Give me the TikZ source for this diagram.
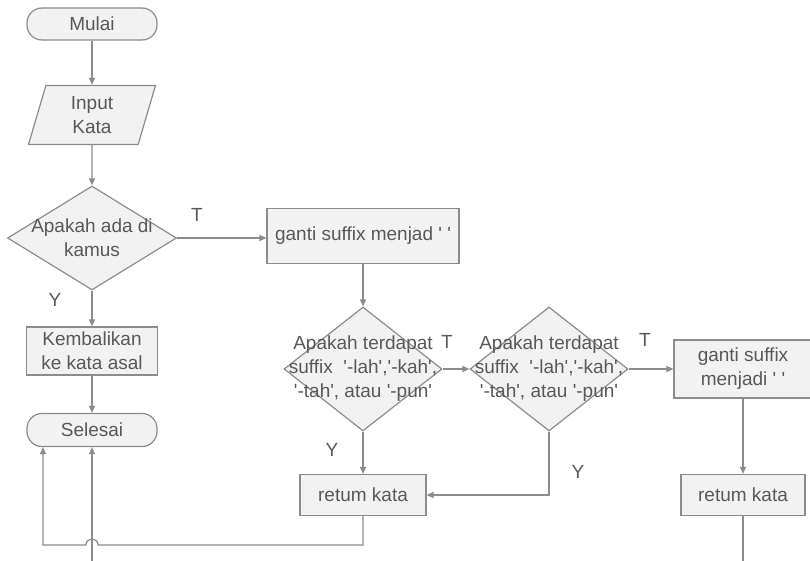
\documentclass[tikz,border=0pt]{standalone}
\usepackage{fontspec}
\usetikzlibrary{arrows.meta,positioning,calc,shapes.geometric}
\newfontfamily\lsans{Liberation Sans}
\definecolor{edge}{HTML}{8C8C8C}
\definecolor{boxfill}{HTML}{F2F2F2}
\definecolor{ink}{HTML}{585858}

\begin{document}
\begin{tikzpicture}[x=1pt,y=-1pt,
  every node/.style={font=\lsans\fontsize{19}{24}\selectfont,text=ink,align=center},
  term/.style={draw=edge,fill=boxfill,line width=1.2pt,rounded corners=15pt,minimum width=130pt,minimum height=32pt},
  io/.style={trapezium,trapezium left angle=65,trapezium right angle=115,trapezium stretches body,draw=edge,fill=boxfill,line width=1.2pt,minimum width=127pt,minimum height=59pt,inner sep=0pt},
  dec/.style={diamond,draw=edge,fill=boxfill,line width=1.2pt,inner sep=0pt},
  proc/.style={rectangle,draw=edge,fill=boxfill,line width=1.2pt,inner sep=0pt},
  flow/.style={draw=edge,line width=1.2pt,-{Triangle[length=7pt,width=6pt]}},
  plain/.style={draw=edge,line width=1.2pt}]
\useasboundingbox (0,0) rectangle (810,561);
% left column
\node[term] (mulai) at (92,24) {Mulai};
\node[io] (input) at (92,115) {Input\\Kata};
\node[dec,minimum width=169pt,minimum height=104pt,label={[align=center]center:{Apakah ada di\\kamus}}] (kamus) at (92,238) {};
\node[proc,minimum width=131pt,minimum height=48pt] (kembali) at (92,351) {Kembalikan\\ke kata asal};
\node[term,minimum height=33pt] (selesai) at (92,430) {Selesai};
% middle and right
\node[proc,minimum width=192pt,minimum height=55pt] (ganti1) at (363,236) {ganti suffix menjad ' '};
\node[dec,minimum width=158pt,minimum height=124pt,label={[align=center]center:{Apakah terdapat\\suffix~~'-lah','-kah',\\'-tah', atau '-pun'}}] (cek1) at (363,369) {};
\node[dec,minimum width=158pt,minimum height=124pt,label={[align=center]center:{Apakah terdapat\\suffix~~'-lah','-kah',\\'-tah', atau '-pun'}}] (cek2) at (549,369) {};
\node[proc,minimum width=138pt,minimum height=58pt] (ganti2) at (743,369) {ganti suffix\\menjadi ' '};
\node[proc,minimum width=126pt,minimum height=41pt] (ret1) at (363,495) {retum kata};
\node[proc,minimum width=124pt,minimum height=41pt] (ret2) at (743,495) {retum kata};
% branch labels
\node (t1) at (197,215) {T};
\node (y1) at (55,300) {Y};
\node (t2) at (447,342) {T};
\node (y2) at (332,450) {Y};
\node (t3) at (645,340) {T};
\node (y3) at (578,472) {Y};
\coordinate (loop) at (43,545);
\coordinate (tail) at (92,561);
\coordinate (tail2) at (743,561);
% connectors
\draw[flow] (mulai) -- (input);
\draw[flow] (input) -- (kamus);
\draw[flow] (kamus) -- (kembali);
\draw[flow] (kembali) -- (selesai);
\draw[flow] (kamus.east) -- (kamus.east -| ganti1.west);
\draw[flow] (ganti1) -- (cek1);
\draw[flow] (cek1) -- (cek2);
\draw[flow] (cek2) -- (ganti2);
\draw[flow] (cek1) -- (ret1);
\draw[flow] (cek2.south) |- (ret1.east);
\draw[flow] (ganti2) -- (ret2);
\draw[plain] (ret2) -- (tail2);
\draw[flow] (tail) -- (selesai.south);
\draw[flow] (ret1.south) -- (ret1.south |- loop) -- (98,545) .. controls (98,537) and (86,537) .. (86,545) -- (loop) -- (loop |- selesai.south);
\end{tikzpicture}
\end{document}
